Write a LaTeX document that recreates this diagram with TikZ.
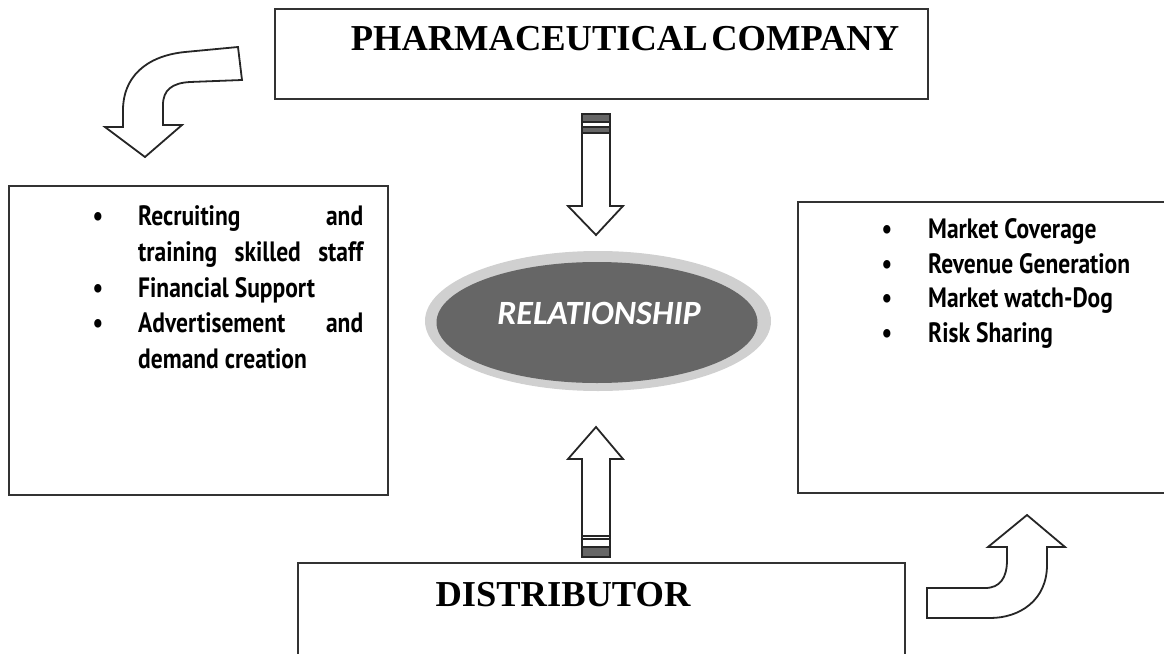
\documentclass[tikz,border=0pt]{standalone}
\usepackage{fontspec}
\setmainfont{Liberation Serif}
\newfontfamily\listfont[FakeStretch=0.84]{PT Sans}
\newfontfamily\ovalfont{Carlito}
\usetikzlibrary{shapes.geometric}

\definecolor{ringgray}{RGB}{208,208,208}
\definecolor{coregray}{RGB}{102,102,102}

\begin{document}
\begin{tikzpicture}[
            x=1pt, y=-1pt,
            box/.style={draw=black!80, line width=1.8pt, fill=white, inner sep=0pt},
            title/.style={inner sep=0pt, font=\fontsize{36.5}{40}\selectfont\bfseries},
            item/.style={anchor=base west, inner sep=0pt, font=\listfont\fontsize{28}{30}\selectfont\bfseries},
            dot/.style={anchor=base, inner sep=0pt, font=\listfont\fontsize{28}{30}\selectfont\bfseries},
            block/.style={draw=black!85, line width=1.8pt, fill=white, line join=miter},
            band/.style={draw=black!85, line width=1.3pt, fill=black!60},
            ]
            \useasboundingbox (0,0) rectangle (1164,653);
            \clip (0,0) rectangle (1164,653);
            \def\W{225}
            
            % boxes
            \node[box, minimum width=653, minimum height=90] (pharma) at (601.5,54) {};
            \node[title] (pharmatext) at (625,39) {PHARMACEUTICAL\hspace{0.1em}COMPANY};
            \node[box, minimum width=379, minimum height=309] (duties) at (198.5,340.5) {};
            \node[box, minimum width=376, minimum height=291] (gains) at (986,347.5) {};
            \node[box, minimum width=607, minimum height=150] (dist) at (601.5,638) {};
            \node[title] (disttext) at (563,595) {DISTRIBUTOR};
            
            % relationship
            \node[ellipse, fill=ringgray, minimum width=346, minimum height=140, inner sep=0pt] (rel) at (598,321) {};
            \node[ellipse, fill=coregray, minimum width=321, minimum height=121, inner sep=0pt] (relcore) at (597,322.5) {};
            \node[inner sep=0pt, text=white, font=\ovalfont\fontsize{34}{36}\selectfont\bfseries\itshape] (reltext) at (599,313) {RELATIONSHIP};
            
            % left list
            \node[dot] (d1) at (98,225) {\textbullet};
            \node[dot] (d2) at (98,297) {\textbullet};
            \node[dot] (d3) at (98,332) {\textbullet};
            \node[item] (l1) at (138,225) {\makebox[\W pt][s]{Recruiting and}};
            \node[item] (l2) at (138,261) {\makebox[\W pt][s]{training skilled staff}};
            \node[item] (l3) at (138,297) {Financial Support};
            \node[item] (l4) at (138,332) {\makebox[\W pt][s]{Advertisement and}};
            \node[item] (l5) at (138,368) {demand creation};
            
            % right list
            \node[dot] (e1) at (887,238) {\textbullet};
            \node[dot] (e2) at (887,273) {\textbullet};
            \node[dot] (e3) at (887,307) {\textbullet};
            \node[dot] (e4) at (887,342) {\textbullet};
            \node[item] (r1) at (928,238) {Market Coverage};
            \node[item] (r2) at (928,273) {Revenue Generation};
            \node[item] (r3) at (928,307) {Market watch-Dog};
            \node[item] (r4) at (928,342) {Risk Sharing};
            
            % down arrow
            \draw[block] (582,133) -- (610,133) -- (610,206) -- (623,206) -- (596,235) -- (568,206) -- (582,206) -- cycle;
            \draw[band] (582,114) rectangle (610,122);
            \draw[band] (582,127) rectangle (610,133);
            \draw[block] (582,122) -- (582,127) (610,122) -- (610,127);
            
            % up arrow
            \draw[block] (582,536) -- (582,459) -- (568,459) -- (596,427) -- (623,459) -- (610,459) -- (610,536) -- cycle;
            \draw[block] (582,536) rectangle (610,547);
            \draw[block] (582,539) -- (610,539);
            \draw[band] (582,547) rectangle (610,557);
            
            % curved arrows
            \draw[block] (238,47) -- (185,52) .. controls (145,56) and (123,78) .. (123,110) -- (123,127)
                -- (105,127) -- (145,157) -- (182,125) -- (163,125) -- (163,105)
                .. controls (163,90) and (172,83) .. (190,82) -- (242,80) -- cycle;
            \draw[block] (927,588) -- (985,588) .. controls (1000,588) and (1007,578) .. (1007,560) -- (1007,547)
                -- (988,547) -- (1027,515) -- (1065,547) -- (1047,547) -- (1047,565)
                .. controls (1047,600) and (1020,618) .. (990,618) -- (927,618) -- cycle;
        \end{tikzpicture}
\end{document}
